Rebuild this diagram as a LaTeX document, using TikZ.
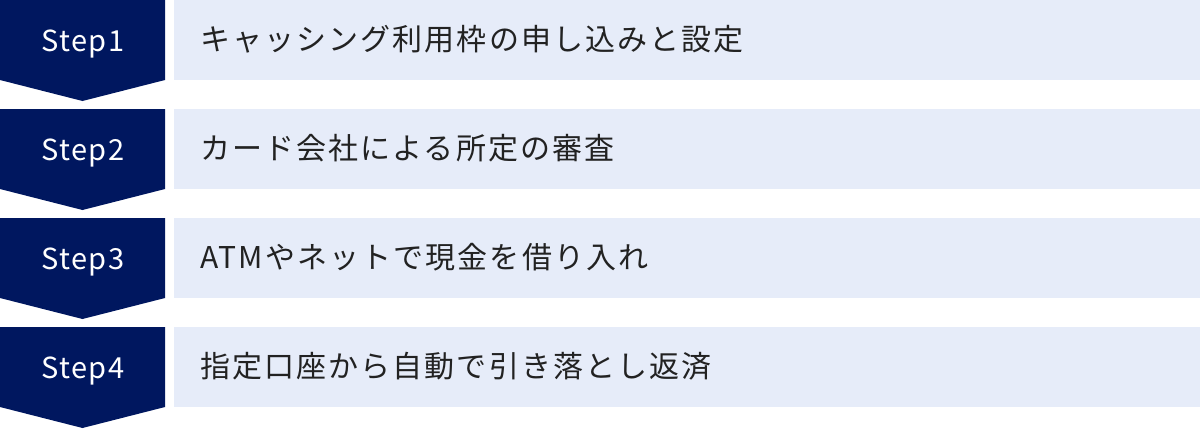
\documentclass[tikz,border=0pt]{standalone}
\usepackage{fontspec}
\setmainfont{Noto Sans CJK JP}
\newfontfamily\jpfont[LetterSpace=7]{Noto Sans CJK JP}
\newfontfamily\stepfont[LetterSpace=5]{Noto Sans CJK JP}
\definecolor{navy}{HTML}{00175F}
\definecolor{pale}{HTML}{E6ECF9}
\definecolor{ink}{HTML}{222222}
\begin{document}
\begin{tikzpicture}[x=1pt,y=-1pt,
  chev/.style={fill=navy,draw=none},
  band/.style={fill=pale,draw=none},
  steplabel/.style={anchor=base,inner sep=0pt,text=white,font=\stepfont\fontsize{29}{34}\selectfont},
  desc/.style={anchor=base west,inner sep=0pt,text=ink,font=\jpfont\fontsize{30}{36}\selectfont}]
\useasboundingbox (0,0) rectangle (1200,429);
\foreach \i/\t in {1/{キャッシング利用枠の申し込みと設定},2/{カード会社による所定の審査},3/{ATMやネットで現金を借り入れ},4/{指定口座から自動で引き落とし返済}}{
  \pgfmathsetmacro{\top}{(\i-1)*109}
  \fill[chev] (0,\top) -- (165,\top) -- (165,\top+80) -- (82.5,\top+101) -- (0,\top+80) -- cycle;
  \fill[band] (174,\top) rectangle (1200,\top+80);
  \node[steplabel] (s\i) at (83,\top+51.5) {Step\i};
  \node[desc] (d\i) at (200,\top+50.5) {\t};
}
\end{tikzpicture}
\end{document}
